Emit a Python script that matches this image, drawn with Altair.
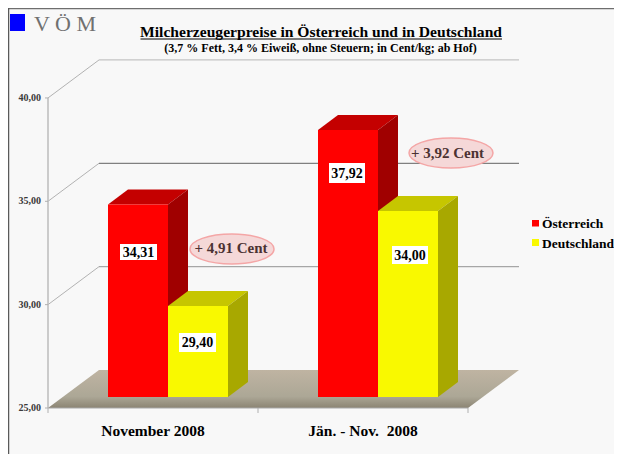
import altair as alt
import pandas as pd

categories = ["November 2008", "Jän. - Nov.\u00a0 2008"]
series = ["Österreich", "Deutschland"]
oesterreich = [34.31, 37.92]
deutschland = [29.40, 34.00]
labels_a = ["34,31", "37,92"]
labels_d = ["29,40", "34,00"]
y_ticks = [25, 30, 35, 40]
y_tick_labels = ["25,00", "30,00", "35,00", "40,00"]
diff_labels = ["+ 4,91 Cent", "+ 3,92 Cent"]
title = "Milcherzeugerpreise in Österreich und in Deutschland"
subtitle = "(3,7 % Fett, 3,4 % Eiweiß, ohne Steuern; in Cent/kg; ab Hof)"

W, H = 606, 446
PX = 20.67  # px per cent
BAND = 210.0
xs = alt.Scale(domain=[-40 / BAND, (W - 40) / BAND], nice=False, zero=False)
ys = alt.Scale(domain=[25 - (H - 400) / PX, 25 + 400 / PX], nice=False, zero=False)
FONT = "Liberation Serif"


def px(v):
    return alt.value(v - 8)


def py(v):
    return alt.value(v - 8)


def area(rows, color):
    d = pd.DataFrame(rows, columns=["x", "y", "y2"])
    return alt.Chart(d).mark_area(color=color, line=False, opacity=1).encode(
        x=alt.X("x:Q", scale=xs, axis=None),
        y=alt.Y("y:Q", scale=ys, axis=None),
        y2="y2:Q",
    )


def segment(x0, y0, x1, y1, color, width=1.0, dash=None):
    d = pd.DataFrame({"x": [x0, x1], "y": [y0, y1]})
    kw = {"strokeDash": dash} if dash else {}
    return alt.Chart(d).mark_line(color=color, strokeWidth=width, **kw).encode(
        x=alt.X("x:Q", scale=xs, axis=None),
        y=alt.Y("y:Q", scale=ys, axis=None),
    )


def label(text, x, y, size, color="#000000", weight="bold", align="center", family=FONT):
    return alt.Chart(pd.DataFrame({"t": [text]})).mark_text(
        font=family, fontSize=size, fontWeight=weight, color=color, align=align, baseline="alphabetic"
    ).encode(x=px(x), y=py(y), text="t:N")


def box(x0, x1, y0, y1, color):
    return alt.Chart(pd.DataFrame({"a": [0]})).mark_rect(color=color).encode(
        x=px(x0), x2=px(x1), y=py(y0), y2=py(y1)
    )


def rule(x0, x1, y0, y1, color, width=1.0):
    return alt.Chart(pd.DataFrame({"a": [0]})).mark_rule(color=color, strokeWidth=width).encode(
        x=px(x0), x2=px(x1), y=py(y0), y2=py(y1)
    )


layers = []

# frame
layers += [rule(8, 8 + W, 8.5, 8.5, "#6e6e6e", 1.5), rule(8.5, 8.5, 8, 8 + H, "#5a5a5a", 1.5)]

# logo, titles
layers += [
    box(10, 25, 14, 31, "#0000ff"),
    label("V Ö M", 34, 31, 22, color="#707070", weight="normal", align="left"),
    label(title, 321, 37, 15.6),
    rule(140.5, 502, 39, 39, "#000000", 1.2),
    label(subtitle, 320.5, 52, 12),
]

# floor
wall_dx = 51 / BAND
wall_dy = 38 / PX
floor = pd.DataFrame(
    [
        [0, 25, 25],
        [wall_dx, 25 + wall_dy, 25],
        [2, 25 + wall_dy, 25],
        [2 + wall_dx, 25 + wall_dy, 25 + wall_dy],
    ],
    columns=["x", "y", "y2"],
)
layers.append(
    alt.Chart(floor)
    .mark_area(
        line=False,
        color=alt.Gradient(
            gradient="linear",
            x1=0, x2=0, y1=0, y2=1,
            stops=[
                alt.GradientStop(offset=0, color="#bfb4a2"),
                alt.GradientStop(offset=0.7, color="#aca796"),
                alt.GradientStop(offset=1, color="#8b8473"),
            ],
        ),
    )
    .encode(
        x=alt.X("x:Q", scale=xs, axis=None),
        y=alt.Y("y:Q", scale=ys, axis=None),
        y2="y2:Q",
    )
)

# wall gridlines, diagonals
grid_colors = {30: "#a6a6a6", 35: "#808080", 40: "#c4c4c4"}
for t in y_ticks[1:]:
    layers.append(segment(wall_dx, t + wall_dy, 2 + wall_dx, t + wall_dy, grid_colors[t], 1.2))
for t in y_ticks[1:]:
    layers.append(segment(0, t, wall_dx, t + wall_dy, "#a0a0a0", 0.8))

# axes
layers.append(segment(0, 25, 0, 40, "#bdbdbd", 1.5))
layers.append(segment(0, 25, 2, 25, "#a8a8a8", 1.2))
for i in range(3):
    xp = 48 + i * BAND
    layers.append(rule(xp, xp, 408, 413, "#b0b0b0", 1))
for t in y_ticks:
    yp = 408 - (t - 25) * PX
    layers.append(rule(45, 48, yp, yp, "#b0b0b0", 1))

layers.append(
    alt.Chart(pd.DataFrame({"t": y_ticks, "l": y_tick_labels}))
    .mark_text(font=FONT, fontSize=10, fontWeight="bold", color="#3a3a3a", align="right", baseline="middle")
    .encode(x=px(41), y=alt.Y("t:Q", scale=ys, axis=None), text="l:N")
)

# 3-D bars
colors = [("#ff0000", "#c40000", "#a00000"), ("#f9f900", "#c6c600", "#a8a800")]
bar_w = 60 / BAND
start = 60 / BAND
dx = 20 / BAND
dy = 15 / PX
base = 25 + 11 / PX
lift = 11 / PX
for i in range(len(categories)):
    for s, vals in enumerate([oesterreich, deutschland]):
        front, top, side = colors[s]
        x0 = i + start + s * bar_w
        x1 = x0 + bar_w
        v = vals[i] + lift
        layers.append(
            area(
                [
                    [x0, v, v],
                    [x0 + dx, v + dy, v],
                    [x1, v + dy, v],
                    [x1 + dx, v + dy, v + dy],
                ],
                top,
            )
        )
        layers.append(area([[x1, v, base], [x1 + dx, v + dy, base + dy]], side))
        layers.append(area([[x0, v, base], [x1, v, base]], front))

# value boxes
value_boxes = [
    (labels_a[0], 120, 157, 244, 260, 257),
    (labels_d[0], 179, 216, 333, 352, 347),
    (labels_a[1], 329, 365, 163, 183, 178),
    (labels_d[1], 392, 428, 246, 264, 260),
]
for text, x0, x1, y0, y1, base_y in value_boxes:
    layers.append(box(x0, x1, y0, y1, "#ffffff"))
    layers.append(label(text, (x0 + x1) / 2, base_y, 14))

# callouts
ellipse = "M -1 0 A 1 0.357 0 1 0 1 0 A 1 0.357 0 1 0 -1 0 Z"
for text, cx, cy, tx, ty in [
    (diff_labels[0], 232, 249, 231, 253),
    (diff_labels[1], 451, 153, 447.5, 157.5),
]:
    layers.append(
        alt.Chart(pd.DataFrame({"a": [0]}))
        .mark_point(shape=ellipse, size=84 * 84, filled=True, fill="#f5d8d8", stroke="#f4a6a6", strokeWidth=1.5, opacity=1)
        .encode(x=px(cx), y=py(cy))
    )
    layers.append(label(text, tx, ty, 15, color="#4c3232"))

# category labels
layers.append(
    alt.Chart(pd.DataFrame({"c": categories, "p": [0.5, 1.5]}))
    .mark_text(font=FONT, fontSize=15.5, fontWeight="bold", color="#000000", align="center", baseline="alphabetic")
    .encode(x=alt.X("p:Q", scale=xs, axis=None), y=py(436), text="c:N")
)

# legend
layers += [
    box(532, 539, 220, 226.5, colors[0][0]),
    label(series[0], 542, 228, 13.5, align="left"),
    box(532, 539, 239, 246, colors[1][0]),
    label(series[1], 542, 248, 13.5, align="left"),
]

chart = (
    alt.layer(*layers)
    .properties(
        width=W,
        height=H,
        padding=0,
        background="#f8f8f8",
        autosize=alt.AutoSizeParams(type="none"),
    )
    .configure_view(stroke=None)
)

chart.save("out.html", embed_options={"renderer": "svg", "actions": False})
